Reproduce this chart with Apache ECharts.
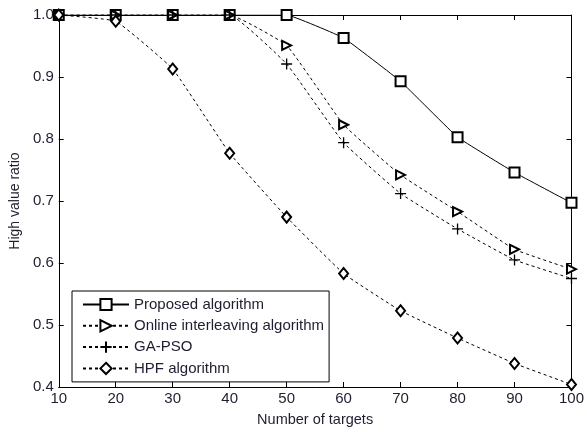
<!DOCTYPE html>
<html><head><meta charset="utf-8">
<script src="https://cdn.jsdelivr.net/npm/echarts@6/dist/echarts.min.js"></script>
<style>html,body{margin:0;padding:0;background:#fff}#c{width:587px;height:432px}</style>
</head><body><div id="c"></div>
<script>
const targets = [10, 20, 30, 40, 50, 60, 70, 80, 90, 100];
const proposed = [1.0, 1.0, 1.0, 1.0, 1.0, 0.963, 0.893, 0.803, 0.746, 0.697];
const onlineInterleaving = [1.0, 1.0, 1.0, 1.0, 0.951, 0.823, 0.742, 0.683, 0.622, 0.590];
const gaPso = [1.0, 1.0, 1.0, 1.0, 0.921, 0.794, 0.712, 0.655, 0.605, 0.575];
const hpf = [1.0, 0.99, 0.913, 0.777, 0.674, 0.583, 0.523, 0.479, 0.438, 0.404];
const seriesNames = ['Proposed algorithm', 'Online interleaving algorithm', 'GA-PSO', 'HPF algorithm'];
const xTicks = [10, 20, 30, 40, 50, 60, 70, 80, 90, 100];
const yTicks = [0.4, 0.5, 0.6, 0.7, 0.8, 0.9, 1.0];

const txt = '#1e1e30';
const font = 'Liberation Sans, Arial, sans-serif';
const pairs = arr => targets.map((x, i) => [x, arr[i]]);
const plusPath = 'path://M0,5L10,5M5,0L5,10';

const baseAxis = {
  axisLine: {show: true, lineStyle: {color: '#000', width: 1}},
  axisTick: {show: true, inside: true, length: 5, lineStyle: {color: '#000'}},
  splitLine: {show: false}
};

const chart = echarts.init(document.getElementById('c'), null, {renderer: 'canvas'});
chart.setOption({
  animation: false,
  backgroundColor: '#fff',
  grid: {left: 58, right: 13, top: 15, bottom: 39, containLabel: false},
  legend: {
    orient: 'vertical', left: 72, top: 291,
    backgroundColor: '#fff', borderColor: '#000', borderWidth: 1,
    padding: [6, 5, 6, 10], itemGap: 6.3, itemWidth: 46, itemHeight: 14,
    textStyle: {fontFamily: font, fontSize: 15, color: txt},
    data: seriesNames
  },
  xAxis: [
    Object.assign({}, baseAxis, {
      type: 'value', min: 10, max: 100, interval: 10, position: 'bottom',
      name: 'Number of targets', nameLocation: 'middle', nameGap: 25,
      nameTextStyle: {fontFamily: font, fontSize: 14.5, color: txt},
      axisLabel: {fontFamily: font, fontSize: 15, color: txt, margin: 4,
        formatter: v => xTicks.includes(v) ? String(v) : ''}
    }),
    Object.assign({}, baseAxis, {
      type: 'value', min: 10, max: 100, interval: 10, position: 'top',
      axisLabel: {show: false}
    })
  ],
  yAxis: [
    Object.assign({}, baseAxis, {
      type: 'value', min: 0.4, max: 1.0, interval: 0.1, position: 'left',
      name: 'High value ratio', nameLocation: 'middle', nameGap: 35, nameRotate: 90,
      nameTextStyle: {fontFamily: font, fontSize: 14, color: txt},
      axisLabel: {fontFamily: font, fontSize: 15, color: txt, margin: 5,
        formatter: v => yTicks.some(t => Math.abs(t - v) < 1e-6) ? v.toFixed(1) : ''}
    }),
    Object.assign({}, baseAxis, {
      type: 'value', min: 0.4, max: 1.0, interval: 0.1, position: 'right',
      axisLabel: {show: false}
    })
  ],
  series: [
    {
      name: seriesNames[0], type: 'line', data: pairs(proposed),
      smooth: 0.08,
      symbol: 'emptyRect', symbolSize: 10,
      lineStyle: {color: '#000', width: 1, type: 'solid'},
      itemStyle: {color: '#000', borderWidth: 1}
    },
    {
      name: seriesNames[1], type: 'line', data: pairs(onlineInterleaving),
      smooth: 0.1,
      symbol: 'emptyTriangle', symbolSize: 9, symbolRotate: -90,
      lineStyle: {color: '#000', width: 1, type: [3, 3]},
      itemStyle: {color: '#000', borderWidth: 1}
    },
    {
      name: seriesNames[2], type: 'line', data: pairs(gaPso),
      smooth: 0.1,
      symbol: plusPath, symbolSize: 11,
      lineStyle: {color: '#000', width: 1, type: [3, 3]},
      itemStyle: {color: '#000', borderColor: '#000', borderWidth: 1.3}
    },
    {
      name: seriesNames[3], type: 'line', data: pairs(hpf),
      smooth: 0.1,
      symbol: 'emptyDiamond', symbolSize: [9, 11],
      lineStyle: {color: '#000', width: 1, type: [3, 3]},
      itemStyle: {color: '#000', borderWidth: 1}
    }
  ]
});
</script></body></html>
